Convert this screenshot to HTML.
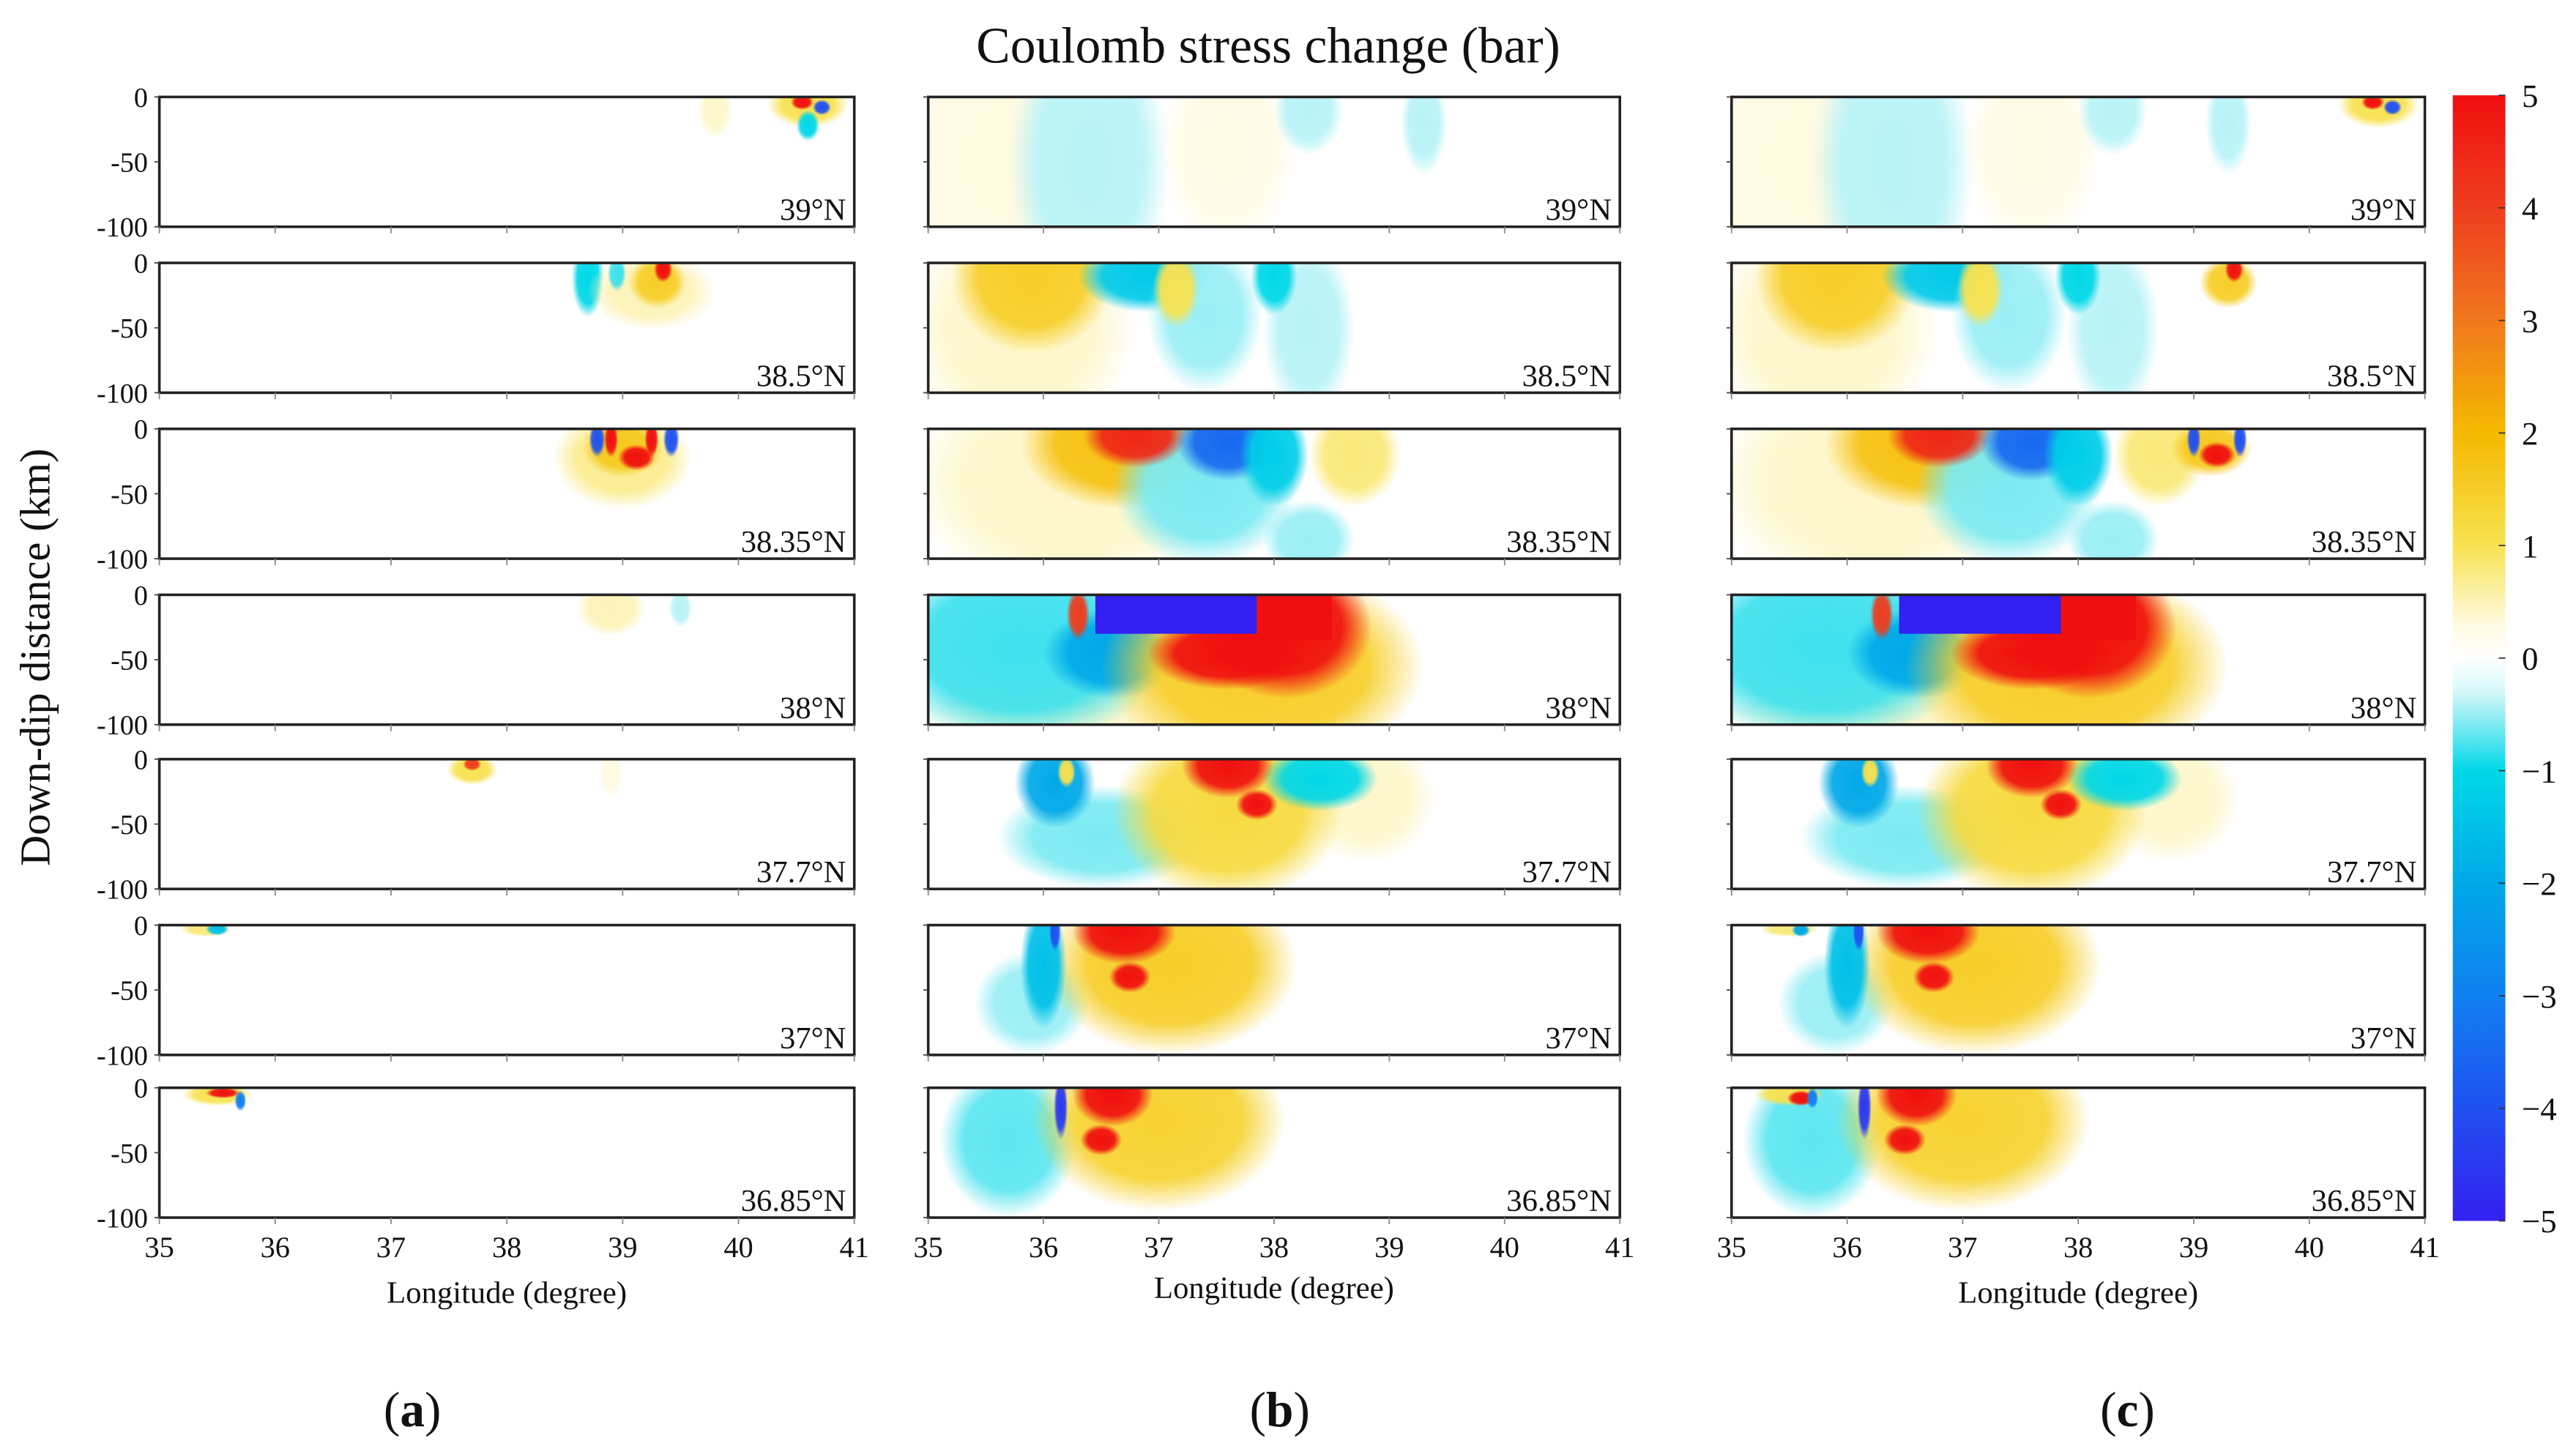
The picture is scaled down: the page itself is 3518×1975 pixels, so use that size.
<!DOCTYPE html>
<html><head><meta charset="utf-8"><style>
html,body{margin:0;padding:0;background:#fff;}
svg{display:block;}
text{font-family:"Liberation Serif",serif;fill:#111;}
</style></head><body>
<svg id="fig" width="3518" height="1975" viewBox="0 0 1568 880" preserveAspectRatio="none" xmlns="http://www.w3.org/2000/svg">
<text x="772" y="38" font-size="31" text-anchor="middle">Coulomb stress change (bar)</text>
<text transform="translate(30,400) rotate(-90)" font-size="26" text-anchor="middle">Down-dip distance (km)</text>
</svg>
<script>
// ---- data ----
const latLabels = ["39°N","38.5°N","38.35°N","38°N","37.7°N","37°N","36.85°N"];
const lonTicks = [35,36,37,38,39,40,41];
const depthTicks = [0,-50,-100];
const cbarTicks = [5,4,3,2,1,0,-1,-2,-3,-4,-5];
// blobs: [row, lon, depth, rLon, rDepth, value]
const blobsA = [
 [0,39.8,-10,0.15,22,0.4],[0,40.6,-6,0.35,18,1],[0,40.55,-4,0.1,6,5],[0,40.72,-8,0.08,6,-4],[0,40.6,-22,0.1,12,-1],
 [1,38.7,-12,0.14,30,-1],[1,39.25,-22,0.55,30,0.5],[1,39.3,-15,0.25,20,1.5],[1,39.35,-5,0.08,10,5],[1,38.95,-8,0.08,14,-0.8],
 [2,39.0,-22,0.6,40,0.7],[2,39.0,-15,0.35,22,1.6],[2,38.78,-8,0.07,14,-4],[2,39.42,-8,0.07,14,-4],[2,38.9,-8,0.06,14,5],[2,39.25,-8,0.06,14,5],[2,39.12,-22,0.16,10,5],
 [3,38.9,-10,0.3,22,0.5],[3,39.5,-10,0.1,15,-0.4],
 [4,37.7,-8,0.22,12,1],[4,37.7,-4,0.08,5,4],[4,38.9,-10,0.1,20,0.3],
 [5,35.4,-3,0.22,6,0.8],[5,35.5,-3,0.1,5,-1.5],
 [6,35.5,-5,0.3,9,1],[6,35.55,-4,0.15,4,5],[6,35.7,-10,0.05,8,-3]
];
const blobsBC = [
 [0,35.7,-50,1.1,110,0.3],[0,36.4,-50,0.7,120,-0.4],[0,37.6,-40,0.6,80,0.25],[0,38.3,-10,0.3,35,-0.4],[0,39.3,-20,0.2,40,-0.4],
 [1,35.8,-50,1.0,90,0.4],[1,35.9,-10,0.7,60,1.5],[1,36.9,-10,0.6,28,-1.3],[1,37.4,-40,0.5,60,-0.5],[1,38.3,-50,0.4,70,-0.4],[1,37.15,-20,0.2,30,1],[1,38.0,-10,0.2,30,-1],
 [2,36.2,-40,1.4,90,0.4],[2,36.7,-12,0.9,50,1.8],[2,37.4,-45,0.8,60,-0.6],[2,36.8,-5,0.45,25,4.5],[2,37.6,-10,0.45,30,-3.5],[2,38.0,-20,0.3,40,-1.2],[2,38.3,-85,0.4,30,-0.5],[2,38.7,-20,0.4,40,0.8],
 [3,36.5,-90,1.6,25,0.4],[3,35.8,-40,1.3,75,-0.8],[3,36.6,-45,0.6,35,-2],[3,37.9,-55,1.4,80,1.5],[3,38.1,-25,0.75,55,5],[3,37.6,-45,0.7,28,5],[3,36.3,-15,0.1,20,4],
 [4,38.8,-30,0.6,50,0.4],[4,36.5,-60,0.9,40,-0.6],[4,37.6,-40,1.0,70,1.2],[4,36.1,-18,0.35,35,-2],[4,37.6,-5,0.4,25,5],[4,37.85,-35,0.18,12,5],[4,38.4,-15,0.5,25,-1],[4,36.2,-10,0.08,12,1],
 [5,35.9,-60,0.5,40,-0.5],[5,37.1,-30,1.1,70,1.5],[5,36.0,-30,0.2,50,-1.5],[5,36.7,-5,0.45,25,5],[5,36.75,-40,0.18,12,5],[5,36.1,-5,0.05,15,-4],
 [6,35.7,-40,0.6,60,-0.7],[6,37.0,-25,1.1,70,1.4],[6,36.6,-5,0.35,25,5],[6,36.5,-40,0.18,12,5],[6,36.15,-15,0.06,25,-4.5]
];
const blobsCExtra = [
 [0,40.6,-6,0.35,18,1],[0,40.55,-4,0.1,6,5],[0,40.72,-8,0.08,6,-4],
 [1,39.3,-15,0.25,20,1.5],[1,39.35,-5,0.08,10,5],
 [2,39.15,-15,0.35,22,1.6],[2,39.2,-20,0.16,10,5],[2,39.0,-8,0.06,14,-4],[2,39.4,-8,0.06,14,-4],
 [5,35.5,-3,0.25,6,0.8],[5,35.6,-4,0.08,5,-2],
 [6,35.5,-5,0.3,9,1],[6,35.6,-8,0.12,6,5],[6,35.7,-8,0.05,8,-3]
];
// rectangles: [row, lon0, lon1, depth0, depth1, value]
const rectsBC = [[3,37.85,38.5,0,-35,5],[3,36.45,37.85,0,-30,-5]];
// ---- layout ----
const NS="http://www.w3.org/2000/svg";
const svg=document.getElementById('fig');
const panels=[{x0:97,x1:520,blobs:blobsA,rects:[]},{x0:565,x1:986,blobs:blobsBC,rects:rectsBC},{x0:1054,x1:1476,blobs:blobsBC.concat(blobsCExtra),rects:rectsBC}];
const rowTop=[59,160,261,362,462,563,662], rowH=79;
const cstops=[[-5,[52,32,240]],[-4,[32,80,240]],[-3,[16,128,240]],[-2,[0,168,232]],[-1,[0,216,232]],[-0.3,[215,248,250]],[0,[255,255,255]],[0.3,[255,250,225]],[1,[248,226,80]],[2,[245,185,0]],[3,[240,120,30]],[4,[238,60,30]],[5,[240,15,15]]];
function cmap(v){v=Math.max(-5,Math.min(5,v));for(let i=0;i<cstops.length-1;i++){const a=cstops[i],b=cstops[i+1];if(v<=b[0]){const t=(v-a[0])/(b[0]-a[0]);return 'rgb('+a[1].map((c,k)=>Math.round(c+(b[1][k]-c)*t)).join(',')+')';}}return 'rgb(240,15,15)';}
function mk(tag,attrs,parent){const e=document.createElementNS(NS,tag);for(const k in attrs)e.setAttribute(k,attrs[k]);(parent||svg).appendChild(e);return e;}
const defs=mk('defs',{});
let gid=0;
function grad(v){const id='g'+(gid++);const g=mk('radialGradient',{id:id},defs);const c=cmap(v);
 mk('stop',{offset:'0','stop-color':c,'stop-opacity':'1'},g);mk('stop',{offset:'0.65','stop-color':c,'stop-opacity':'0.92'},g);mk('stop',{offset:'1','stop-color':c,'stop-opacity':'0'},g);return id;}
panels.forEach((p,pi)=>{
 const xs=lon=>p.x0+(lon-35)/6*(p.x1-p.x0);
 const pg=mk('g',{});
 
 
 rowTop.forEach((top,ri)=>{
  const ys=d=>top+(-d)/100*rowH;
  const cp=mk('clipPath',{id:'c'+pi+'_'+ri},defs);
  mk('rect',{x:p.x0,y:top,width:p.x1-p.x0,height:rowH},cp);
  const g=mk('g',{'clip-path':'url(#c'+pi+'_'+ri+')'},pg);
  
  
  p.blobs.filter(b=>b[0]===ri).forEach(b=>{
   const e=mk('ellipse',{cx:xs(b[1]),cy:ys(b[2]),rx:b[3]/6*(p.x1-p.x0),ry:b[4]/100*rowH,fill:'url(#'+grad(b[5])+')'},g);
   
   
  });
  p.rects.filter(r=>r[0]===ri).forEach(r=>{
   const e=mk('rect',{x:xs(r[1]),y:ys(r[3]),width:xs(r[2])-xs(r[1]),height:ys(r[4])-ys(r[3]),fill:cmap(r[5])},g);
   
   
  });
  const fr=mk('rect',{x:p.x0,y:top,width:p.x1-p.x0,height:rowH,fill:'none',stroke:'#222','stroke-width':1.6},pg);
  
  
  const lt=mk('text',{x:p.x1-5,y:top+rowH-4,'font-size':19,'text-anchor':'end'},pg);
  lt.textContent=latLabels[ri];
  
  
  lonTicks.forEach(l=>{mk('line',{x1:xs(l),x2:xs(l),y1:top+rowH,y2:top+rowH+4,stroke:'#888','stroke-width':0.8},pg);});
  depthTicks.forEach(d=>{
   mk('line',{x1:p.x0-3,x2:p.x0,y1:ys(d),y2:ys(d),stroke:'#444','stroke-width':0.8},pg);
   if(pi===0){const t=mk('text',{x:p.x0-7,y:ys(d)+6,'font-size':17,'text-anchor':'end'},pg);t.textContent=String(d);
    
    }
  });
 });
 lonTicks.forEach(l=>{const t=mk('text',{x:xs(l),y:765,'font-size':18,'text-anchor':'middle'},pg);t.textContent=l;
  
  });
 const xl=mk('text',{x:(p.x0+p.x1)/2,y:pi===1?790:793,'font-size':19,'text-anchor':'middle'},pg);
 xl.textContent='Longitude (degree)';
 
 
 const pl=mk('text',{x:[251,779,1295][pi],y:868,'font-size':30,'text-anchor':'middle'},pg);
 pl.innerHTML='(<tspan font-weight="bold">'+'abc'[pi]+'</tspan>)';
 
 
});
// colorbar
const cb={x:1493,w:32,y0:58,y1:743};
const cys=v=>cb.y0+(5-v)/10*(cb.y1-cb.y0);
const lg=mk('linearGradient',{id:'cbg',x1:0,y1:0,x2:0,y2:1},defs);
for(let i=0;i<=100;i++){const v=5-i/10;mk('stop',{offset:i/100,'stop-color':cmap(v)},lg);}
const cbr=mk('rect',{x:cb.x,y:cb.y0,width:cb.w,height:cb.y1-cb.y0,fill:'url(#cbg)'});


cbarTicks.forEach(v=>{
 mk('line',{x1:cb.x+cb.w-4,x2:cb.x+cb.w,y1:cys(v),y2:cys(v),stroke:'#333','stroke-width':0.8});
 const t=mk('text',{x:cb.x+cb.w+10,y:cys(v)+7,'font-size':20});
 t.textContent=(v<0?'\u2212'+(-v):String(v));
 
 
});
</script>
</body></html>
